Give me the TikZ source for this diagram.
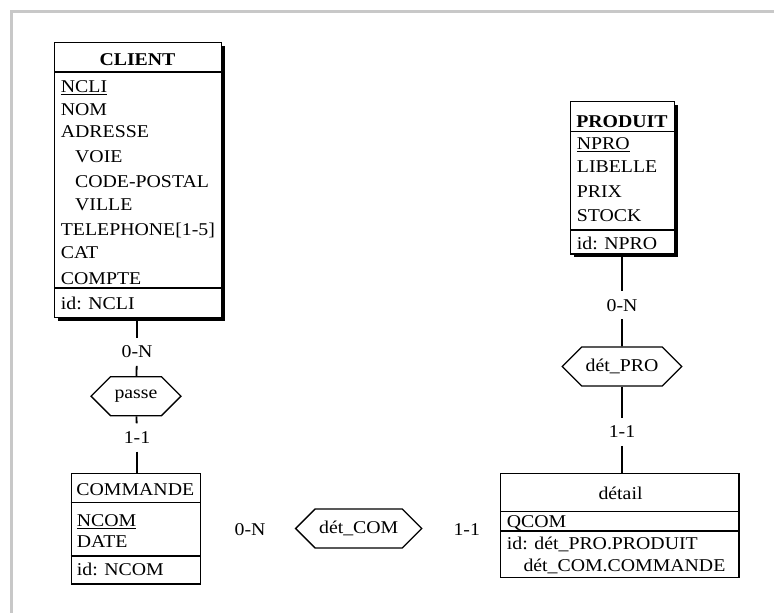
\documentclass[tikz,border=0pt]{standalone}
\usepackage{fontspec}
\setmainfont{Liberation Serif}[FakeStretch=1.1]
\usetikzlibrary{shapes.symbols}
\definecolor{framegray}{RGB}{200,200,200}
\begin{document}
\begin{tikzpicture}[x=1pt,y=-1pt,
  every node/.style={font=\fontsize{18}{21}\selectfont, inner sep=0pt},
  txt/.style={anchor=base west},
  ttl/.style={anchor=base},
  entbox/.style={draw, line width=1.3pt, fill=white, rectangle, inner sep=0pt, anchor=north west},
  sepline/.style={line width=1.3pt},
  card/.style={fill=white, inner xsep=2pt, inner ysep=8pt, text height=12pt, text depth=0pt},
  rel/.style={draw, signal, signal to=west and east, signal pointer angle=90, minimum height=39pt, line width=1.3pt, fill=white, inner xsep=4pt},
  link/.style={line width=1.8pt}]
\useasboundingbox (0,0) rectangle (774,613);
% gray frame
\draw[framegray, line width=3pt] (11.5,613) -- (11.5,11.5) -- (774,11.5);

% ---- labels and relationships ----
\node[card] (c0n) at (137,351.7) {0-N};
\node[rel, minimum width=82pt] (passe) at (136,396.2) {passe};
\node[card] (c11) at (137,437.5) {1-1};
\node[card] (p0n) at (622,305) {0-N};
\node[rel, minimum width=112pt] (detpro) at (622,366.5) {dét\_PRO};
\node[card] (p11) at (622,431.7) {1-1};
\node[card] (m0n) at (250,529) {0-N};
\node[rel, minimum width=119pt] (detcom) at (358.7,528.5) {dét\_COM};
\node[card] (m11) at (466.7,529) {1-1};

% ---- connectors ----
\coordinate (clientbot) at (137,320);
\coordinate (produitbot) at (622,256);
\coordinate (commandetop) at (137,472.7);
\coordinate (detailtop) at (622,472.7);
\draw[link] (clientbot) -- (c0n);
\draw[link] (c0n) -- (passe);
\draw[link] (passe) -- (c11);
\draw[link] (c11) -- (commandetop);
\draw[link] (produitbot) -- (p0n);
\draw[link] (p0n) -- (detpro);
\draw[link] (detpro) -- (p11);
\draw[link] (p11) -- (detailtop);

% ---- CLIENT ----
\fill (57.5,45.5) rectangle (224.5,320.5);
\node[entbox, minimum width=167pt, minimum height=275pt] (client) at (54,42) {};
\draw[sepline] (54,72) -- (221,72);
\draw[sepline] (54,288) -- (221,288);
\node[ttl, font=\fontsize{18}{21}\selectfont\bfseries] (clientT) at (137.5,65) {CLIENT};
\node[txt] (ncli) at (60.7,92.7) {\underline{NCLI}};
\node[txt] (nom) at (60.7,115) {NOM};
\node[txt] (adresse) at (60.7,137.7) {ADRESSE};
\node[txt] (voie) at (75,162.7) {VOIE};
\node[txt] (cp) at (75,187.7) {CODE-POSTAL};
\node[txt] (ville) at (75,210) {VILLE};
\node[txt] (tel) at (60.7,235) {TELEPHONE[1-5]};
\node[txt] (cat) at (60.7,258) {CAT};
\node[txt] (compte) at (60.7,284) {COMPTE};
\node[txt] (idcli) at (60.7,309.3) {id: NCLI};

% ---- PRODUIT ----
\fill (573.5,104.5) rectangle (677.5,256.8);
\node[entbox, minimum width=104pt, minimum height=152.3pt] (produit) at (570,101) {};
\draw[sepline] (570,131.7) -- (674,131.7);
\draw[sepline] (570,230) -- (674,230);
\node[ttl, font=\fontsize{18}{21}\selectfont\bfseries] (produitT) at (622,127.7) {PRODUIT};
\node[txt] (npro) at (576.7,149.3) {\underline{NPRO}};
\node[txt] (libelle) at (576.7,172.7) {LIBELLE};
\node[txt] (prix) at (576.7,197.7) {PRIX};
\node[txt] (stock) at (576.7,221) {STOCK};
\node[txt] (idpro) at (576.7,249.3) {id: NPRO};

% ---- COMMANDE ----
\node[entbox, minimum width=129.3pt, minimum height=110.6pt] (commande) at (70.7,472.7) {};
\draw[sepline] (70.7,502.7) -- (200,502.7);
\draw[sepline] (70.7,556) -- (200,556);
\node[ttl] (commandeT) at (135.35,495) {COMMANDE};
\node[txt] (ncom) at (76.7,526.7) {\underline{NCOM}};
\node[txt] (date) at (76.7,547.7) {DATE};
\node[txt] (idcom) at (76.7,575) {id: NCOM};

% ---- detail ----
\node[entbox, minimum width=238.3pt, minimum height=104pt] (detail) at (500,472.7) {};
\draw[sepline] (500,511.7) -- (738.3,511.7);
\draw[sepline] (500,531) -- (738.3,531);
\node[ttl] (detailT) at (620.5,499.3) {détail};
\node[txt] (qcom) at (506.7,527) {QCOM};
\node[txt] (iddet) at (506.7,549.3) {id: dét\_PRO.PRODUIT};
\node[txt] (iddet2) at (523.3,571) {dét\_COM.COMMANDE};
\end{tikzpicture}
\end{document}
